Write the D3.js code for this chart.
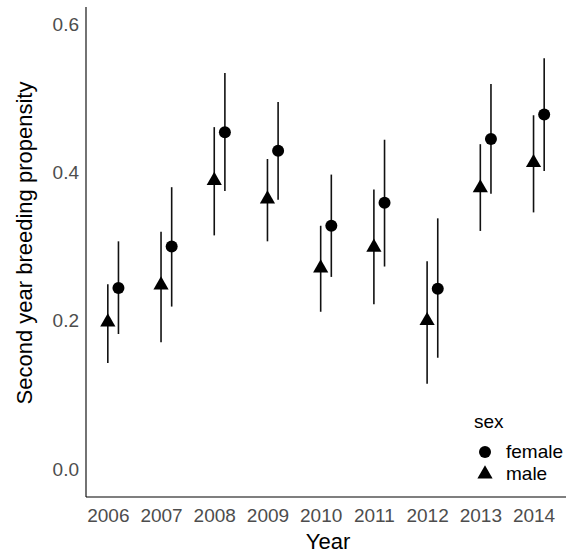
<!DOCTYPE html>
<html>
<head>
<meta charset="utf-8">
<script src="https://cdn.jsdelivr.net/npm/d3@7"></script>
<style>
  body { margin: 0; background: #fff; }
  text { font-family: "Liberation Sans", Arial, sans-serif; }
</style>
</head>
<body>
<div id="chart"></div>
<script>
// data
var YEARS = [2006, 2007, 2008, 2009, 2010, 2011, 2012, 2013, 2014];
var MALE_EST   = [0.198, 0.248, 0.389, 0.364, 0.271, 0.299, 0.200, 0.379, 0.413];
var MALE_LOW   = [0.143, 0.171, 0.315, 0.307, 0.212, 0.222, 0.115, 0.321, 0.346];
var MALE_HIGH  = [0.249, 0.320, 0.461, 0.418, 0.328, 0.377, 0.280, 0.438, 0.477];
var FEMALE_EST  = [0.244, 0.300, 0.454, 0.429, 0.328, 0.359, 0.243, 0.445, 0.478];
var FEMALE_LOW  = [0.182, 0.219, 0.375, 0.363, 0.259, 0.273, 0.150, 0.371, 0.402];
var FEMALE_HIGH = [0.307, 0.380, 0.534, 0.495, 0.397, 0.444, 0.338, 0.519, 0.554];
var Y_TICKS = [0.0, 0.2, 0.4, 0.6];
var FEMALE_OFFSET = 0.2; // females plotted at year + 0.2

var WIDTH = 568, HEIGHT = 554;
var PANEL = {left: 86, right: 566, top: 7, bottom: 497};

var svg = d3.select("#chart").append("svg")
    .attr("width", WIDTH)
    .attr("height", HEIGHT);

var x = d3.scaleLinear()
    .domain([2005.59, 2014.61])
    .range([PANEL.left, PANEL.right]);

var y = d3.scaleLinear()
    .domain([-0.0378, 0.623])
    .range([PANEL.bottom, PANEL.top]);

// build rows from the arrays
var rows = [];
for (var i = 0; i < YEARS.length; i++) {
    rows.push({sex: "male", x: YEARS[i], est: MALE_EST[i], lo: MALE_LOW[i], hi: MALE_HIGH[i]});
    rows.push({sex: "female", x: YEARS[i] + FEMALE_OFFSET, est: FEMALE_EST[i], lo: FEMALE_LOW[i], hi: FEMALE_HIGH[i]});
}

// axes (no ticks, just lines + labels)
var xAxis = svg.append("g")
    .attr("transform", "translate(0," + PANEL.bottom + ")")
    .call(d3.axisBottom(x).tickValues(YEARS).tickFormat(d3.format("d")).tickSize(0).tickPadding(12));
var yAxis = svg.append("g")
    .attr("transform", "translate(" + PANEL.left + ",0)")
    .call(d3.axisLeft(y).tickValues(Y_TICKS).tickFormat(d3.format(".1f")).tickSize(0).tickPadding(7));

[xAxis, yAxis].forEach(function(ax) {
    ax.select(".domain").attr("stroke", "#000").attr("stroke-width", 1.1);
    ax.selectAll("text")
        .attr("fill", "#4d4d4d")
        .style("font-size", "19px")
        .style("font-family", "Liberation Sans, Arial, sans-serif");
});
// stretch domain lines to panel edges
xAxis.select(".domain").attr("d", "M" + PANEL.left + ",0H" + PANEL.right);
yAxis.select(".domain").attr("d", "M0," + PANEL.top + "V" + PANEL.bottom);

// error bars
svg.append("g").selectAll("line")
    .data(rows)
    .enter().append("line")
    .attr("x1", function(d) { return x(d.x); })
    .attr("x2", function(d) { return x(d.x); })
    .attr("y1", function(d) { return y(d.lo); })
    .attr("y2", function(d) { return y(d.hi); })
    .attr("stroke", "#111")
    .attr("stroke-width", 1.6);

// points
var triangle = d3.symbol().type(d3.symbolTriangle).size(100);
var pts = svg.append("g");
pts.selectAll("circle")
    .data(rows.filter(function(d) { return d.sex == "female"; }))
    .enter().append("circle")
    .attr("cx", function(d) { return x(d.x); })
    .attr("cy", function(d) { return y(d.est); })
    .attr("r", 6)
    .attr("fill", "#000");
pts.selectAll("path")
    .data(rows.filter(function(d) { return d.sex == "male"; }))
    .enter().append("path")
    .attr("d", triangle)
    .attr("transform", function(d) { return "translate(" + x(d.x) + "," + y(d.est) + ")"; })
    .attr("fill", "#000");

// axis titles
svg.append("text")
    .attr("x", 328)
    .attr("y", 549)
    .attr("text-anchor", "middle")
    .style("font-size", "22px")
    .text("Year");

svg.append("text")
    .attr("transform", "translate(32,243) rotate(-90)")
    .attr("text-anchor", "middle")
    .style("font-size", "22px")
    .text("Second year breeding propensity");

// legend
var legend = svg.append("g");
legend.append("text")
    .attr("x", 474)
    .attr("y", 428)
    .style("font-size", "19px")
    .text("sex");
legend.append("circle")
    .attr("cx", 485)
    .attr("cy", 452)
    .attr("r", 6)
    .attr("fill", "#000");
legend.append("text")
    .attr("x", 506)
    .attr("y", 458)
    .style("font-size", "19px")
    .text("female");
legend.append("path")
    .attr("d", triangle)
    .attr("transform", "translate(485,474)")
    .attr("fill", "#000");
legend.append("text")
    .attr("x", 506)
    .attr("y", 480)
    .style("font-size", "19px")
    .text("male");
</script>
</body>
</html>
